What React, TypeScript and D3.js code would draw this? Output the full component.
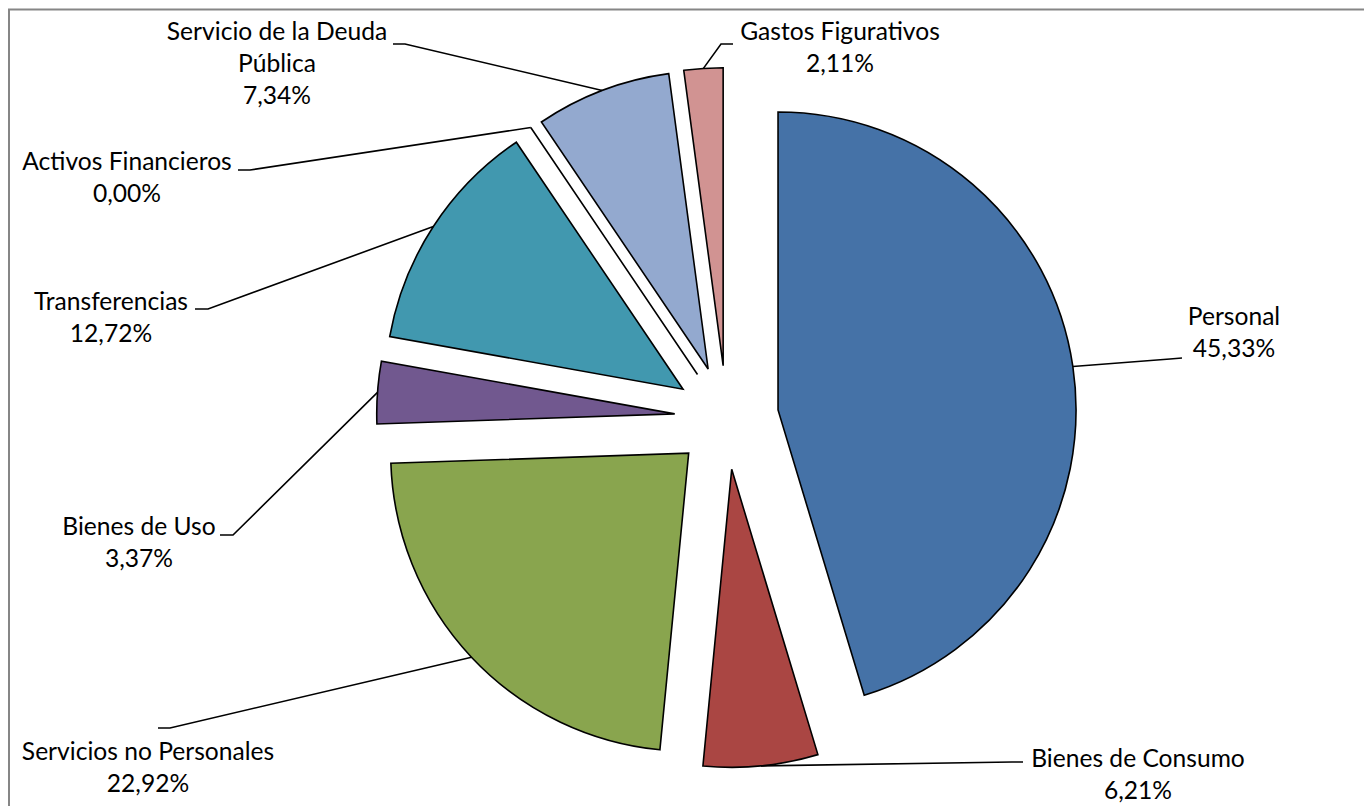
import React from 'react';
import * as d3 from 'd3';

// ---- data ----
const categories = [
  'Personal',
  'Bienes de Consumo',
  'Servicios no Personales',
  'Bienes de Uso',
  'Transferencias',
  'Activos Financieros',
  'Servicio de la Deuda Pública',
  'Gastos Figurativos',
];
const values = [45.33, 6.21, 22.92, 3.37, 12.72, 0.0, 7.34, 2.11];
const nameLines = [
  ['Personal'],
  ['Bienes de Consumo'],
  ['Servicios no Personales'],
  ['Bienes de Uso'],
  ['Transferencias'],
  ['Activos Financieros'],
  ['Servicio de la Deuda', 'Pública'],
  ['Gastos Figurativos'],
];
const colors = ['#4572A7', '#AA4643', '#89A54E', '#71588F', '#4198AF', '#DB843D', '#93A9CF', '#D19392'];

// ---- layout (label placement, leader elbows) ----
const labelLayout = [
  { x: 1234, y: 325, elbow: [1170, 359], end: [1182, 358] },
  { x: 1138, y: 767, elbow: [1012, 762], end: [1023, 762] },
  { x: 148, y: 760, elbow: [170, 728], end: [158, 728] },
  { x: 139, y: 535, elbow: [233, 535], end: [220, 535] },
  { x: 111, y: 310, elbow: [208, 309], end: [195, 309] },
  { x: 127, y: 170, elbow: [250, 170], end: [238, 170] },
  { x: 277, y: 40, elbow: [405, 44], end: [393, 44] },
  { x: 840, y: 40, elbow: [721, 44], end: [733, 44] },
];

const W = 1364;
const H = 806;
const cx = 726.6;
const cy = 417.6;
const R = 298;
const EXPLODE = 52;
const LINE_H = 32;
const FONT = 'Lato, "Open Sans", sans-serif';
const FONT_SIZE = 24.6;

const fmtPct = (v: number) => d3.format('.2f')(v).replace('.', ',') + '%';

export default function App() {
  const pie = d3.pie<number>().sort(null).value((d) => d).startAngle(0).endAngle(2 * Math.PI);
  const arcs = pie(values);
  const arcGen = d3.arc<d3.PieArcDatum<number>>().innerRadius(0).outerRadius(R);

  return (
    <svg
      width={W}
      height={H}
      style={{ position: 'absolute', left: 0, top: 0, background: '#fff' }}
      fontFamily={FONT}
    >
      <rect x={9} y={9.5} width={W + 20} height={H + 20} fill="#fff" stroke="#868686" strokeWidth={2} />
      <g transform={`translate(${cx},${cy})`}>
        {arcs.map((a, i) => {
          const mid = (a.startAngle + a.endAngle) / 2;
          const dx = EXPLODE * Math.sin(mid);
          const dy = -EXPLODE * Math.cos(mid);
          return (
            <path
              key={categories[i]}
              d={arcGen(a) || ''}
              transform={`translate(${dx},${dy})`}
              fill={colors[i]}
              stroke="#000"
              strokeWidth={1.6}
              strokeLinejoin="miter"
            />
          );
        })}
      </g>
      {arcs.map((a, i) => {
        const mid = (a.startAngle + a.endAngle) / 2;
        const px = cx + (EXPLODE + R) * Math.sin(mid);
        const py = cy - (EXPLODE + R) * Math.cos(mid);
        const L = labelLayout[i];
        const lines = [...nameLines[i], fmtPct(values[i])];
        return (
          <g key={'lab' + i}>
            <polyline
              points={`${px},${py} ${L.elbow[0]},${L.elbow[1]} ${L.end[0]},${L.end[1]}`}
              fill="none"
              stroke="#000"
              strokeWidth={1.6}
            />
            <text textAnchor="middle" fontSize={FONT_SIZE} fill="#000">
              {lines.map((t, j) => (
                <tspan key={j} x={L.x} y={L.y + j * LINE_H}>
                  {t}
                </tspan>
              ))}
            </text>
          </g>
        );
      })}
    </svg>
  );
}
